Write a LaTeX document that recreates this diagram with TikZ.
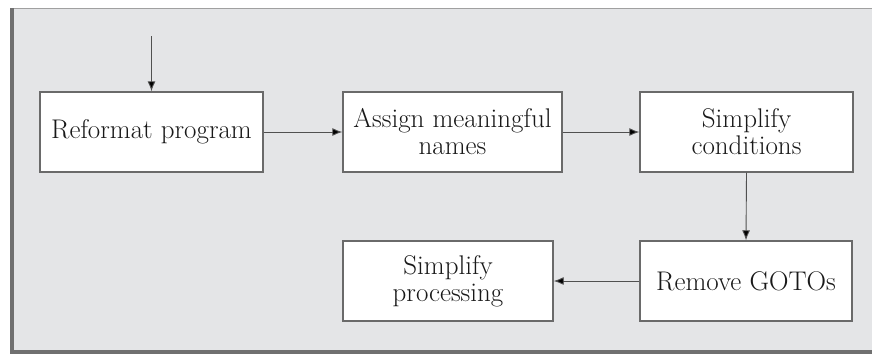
\documentclass[tikz,border=0pt]{standalone}
\usetikzlibrary{arrows.meta}
\definecolor{panel}{HTML}{E4E5E7}
\definecolor{boxline}{HTML}{6A6A6A}
\definecolor{frameDark}{HTML}{707070}
\definecolor{frameLight}{HTML}{A0A0A0}
\definecolor{arrowline}{HTML}{505050}
\tikzset{
  stage/.style={draw=boxline, line width=1.4pt, fill=white, align=center,
    inner sep=0pt, text=black!90, font=\fontsize{27}{27}\selectfont},
  flow/.style={draw=arrowline, line width=0.9pt, -{Latex[length=10pt,width=8pt,fill=black]}}
}
\begin{document}
\begin{tikzpicture}[x=1pt,y=-1pt]
\useasboundingbox (0,0) rectangle (872,354);
% panel
\fill[panel] (10,8) rectangle (872,352);
\draw[frameLight, line width=1pt] (10,8.5) -- (872,8.5);
\draw[frameDark, line width=4pt] (12,8) -- (12,354);
\draw[frameDark, line width=4pt] (10,352) -- (872,352);
% nodes
\node[stage, minimum width=223pt, minimum height=80pt] (reformat) at (151.5,132) {Reformat program};
\node[stage, minimum width=219pt, minimum height=80pt] (assign) at (452.5,132) {Assign meaningful\\names};
\node[stage, minimum width=213pt, minimum height=80pt] (simpcond) at (746.5,132) {Simplify\\conditions};
\node[stage, minimum width=212pt, minimum height=80pt] (remove) at (746,281) {Remove GOTOs};
\node[stage, minimum width=210pt, minimum height=80pt] (simpproc) at (448,281) {Simplify\\processing};
\coordinate (start) at (151.5,36);
% connectors
\draw[flow] (start) -- (reformat.north);
\draw[flow] (reformat.east) -- (assign.west);
\draw[flow] (assign.east) -- (simpcond.west);
\draw[flow] (simpcond.south) -- (remove.north);
\draw[flow] (remove.west) -- (simpproc.east);
\end{tikzpicture}
\end{document}
